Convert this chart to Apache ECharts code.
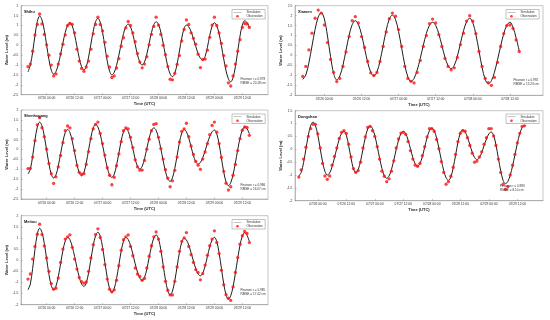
<!DOCTYPE html>
<html><head><meta charset="utf-8">
<script src="https://cdn.jsdelivr.net/npm/echarts@6/dist/echarts.min.js"></script>
<style>html,body{margin:0;padding:0;background:#fff}#c{width:550px;height:320px}</style>
</head><body><div id="c"></div>
<script>
// ---------- data ----------
const xTickHours = [0, 12, 24, 36, 48, 60, 72, 84]; // hours after 07/26 00:00 UTC
const xTickLabels = ['07/26 00:00','07/26 12:00','07/27 00:00','07/27 12:00','07/28 00:00','07/28 12:00','07/29 00:00','07/29 12:00'];

const stationNames = ['Shihu', 'Xiamen', 'Shenhugang', 'Dongshan', 'Meitou'];
const pearsonR = ['0.978', '0.992', '0.986', '0.983', '0.985'];
const rmseCm = ['20.18', '15.23', '16.07', '8.10', '17.42'];

// hourly series; first sample hour (relative to 07/26 00:00)
const shihuStart = -8;
const shihuSim = [-1.35,-1.00,-0.35,0.50,1.20,1.48, 1.28,0.75,0.01,-0.73,-1.26,-1.46, -1.33,-0.97,-0.45,0.13,0.65,1.01,1.14, 0.98,0.54,-0.06,-0.65,-1.09,-1.25, -1.08,-0.60,0.06,0.71,1.19,1.36, 1.17,0.65,-0.07,-0.79,-1.31,-1.50, -1.37,-1.02,-0.50,0.07,0.59,0.94,1.07, 0.93,0.55,0.04,-0.48,-0.86,-1.00, -0.85,-0.45,0.10,0.64,1.04,1.19, 1.05,0.67,0.11,-0.51,-1.07,-1.45,-1.59, -1.42,-0.94,-0.29,0.37,0.85,1.02, 0.93,0.69,0.33,-0.06,-0.42,-0.66,-0.75, -0.57,-0.10,0.49,0.96,1.14, 0.99,0.58,-0.02,-0.69,-1.29,-1.70,-1.85, -1.64,-1.08,-0.31,0.47,1.03,1.24, 1.15,0.90];
const shihuObs = [-1.08,-0.95,-0.30,0.52,1.05,1.58, 1.08,0.55,0.02,-0.50,-1.00,-1.55, -1.45,-0.95,-0.44,0.05,0.52,1.00,1.10, 1.06,0.62,-0.20,-0.80,-1.17,-1.32, -1.10,-0.80,-0.20,0.58,1.05,1.42, 1.05,0.72,0.15,-0.55,-1.10,-1.63, -1.55,-1.15,-0.68,-0.05,0.38,0.88,1.20, 1.00,0.62,0.18,-0.42,-0.85,-1.14, -0.95,-0.58,0.02,0.55,0.95,1.42, 1.02,0.55,0.00,-0.48,-1.08,-1.72,-1.75, -1.42,-0.97,-0.52,0.22,0.80,1.28, 1.05,0.63,0.35,0.05,-0.45,-1.13,-0.72, -0.70,-0.25,0.40,1.02,1.42, 1.00,0.62,0.10,-0.52,-1.05,-1.90,-2.06, -1.55,-0.95,-0.30,0.28,0.90,1.10, 1.08,0.90];

const xiamenStart = -7;
const xiamenSim = [-1.20,-0.98,-0.36,0.48,1.31,1.93,2.15, 1.83,0.98,-0.06,-0.91,-1.23, -1.03,-0.49,0.26,1.01,1.55,1.75, 1.56,1.06,0.36,-0.34,-0.84,-1.03, -0.83,-0.27,0.50,1.27,1.83,2.03, 1.81,1.20,0.37,-0.47,-1.08,-1.30, -1.15,-0.74,-0.15,0.52,1.11,1.52,1.67, 1.51,1.09,0.50,-0.09,-0.51,-0.67, -0.50,-0.04,0.60,1.24,1.70,1.87, 1.65,1.05,0.23,-0.60,-1.20,-1.42, -1.27,-0.84,-0.22,0.47,1.09,1.52,1.67, 1.42,0.88,0.25];
const xiamenObs = [-1.05,-0.55,0.28,1.12,1.87,2.28,2.13, 1.53,0.65,-0.20,-0.85,-1.31, -1.15,-0.55,0.18,0.95,1.75,1.95, 1.63,0.95,0.40,-0.30,-0.87,-1.00, -0.85,-0.30,0.45,1.18,1.85,2.13, 1.97,1.30,0.45,-0.55,-1.15,-1.30, -1.38,-0.85,-0.25,0.45,1.00,1.60,1.83, 1.63,1.05,0.45,-0.15,-0.55,-0.72, -0.62,-0.10,0.55,1.12,1.73,2.00, 1.72,1.10,0.20,-0.55,-1.15,-1.37, -1.50,-1.10,-0.35,0.45,1.10,1.50,1.53, 1.35,0.78,0.20];

const shenhugangStart = -8;
const shenhugangSim = [-1.24,-0.99,-0.33,0.48,1.14,1.39, 1.20,0.68,-0.03,-0.73,-1.25,-1.44, -1.28,-0.83,-0.21,0.41,0.86,1.02, 0.86,0.43,-0.16,-0.74,-1.17,-1.33, -1.16,-0.68,-0.03,0.62,1.10,1.27, 1.14,0.77,0.23,-0.37,-0.90,-1.28,-1.41, -1.25,-0.79,-0.18,0.44,0.90,1.06, 0.92,0.55,0.04,-0.48,-0.85,-0.99, -0.85,-0.47,0.06,0.58,0.96,1.10, 0.97,0.59,0.05,-0.56,-1.10,-1.48,-1.61, -1.43,-0.95,-0.30,0.36,0.84,1.02, 0.90,0.58,0.14,-0.30,-0.62,-0.74, -0.65,-0.41,-0.07,0.32,0.66,0.90,0.99, 0.80,0.29,-0.42,-1.13,-1.64,-1.83, -1.68,-1.27,-0.68,-0.01,0.58,0.99,1.14, 1.05,0.80];
const shenhugangObs = [-0.96,-0.95,-0.38,0.45,1.25,1.61, 1.10,0.65,0.02,-0.70,-1.22,-1.71, -1.38,-0.88,-0.30,0.35,0.95,1.19, 1.10,0.55,-0.05,-0.80,-1.15,-1.24, -1.22,-0.75,-0.10,0.55,1.05,1.27, 1.39,0.82,0.30,-0.28,-0.92,-1.30,-1.78, -1.40,-0.82,-0.22,0.40,0.95,1.10, 1.05,0.62,0.10,-0.52,-0.88,-1.04, -1.04,-0.55,0.02,0.52,0.95,1.27, 1.31,0.62,0.05,-0.48,-1.02,-1.45,-1.88, -1.58,-1.05,-0.38,0.38,0.92,1.05, 1.33,0.65,0.18,-0.25,-0.60,-0.79, -1.00,-0.48,-0.12,0.30,0.75,1.22,1.39, 0.88,0.30,-0.40,-1.10,-1.70,-2.05, -1.88,-1.30,-0.75,-0.05,0.55,0.98,1.14, 1.12,0.72];

const dongshanStart = -8;
const dongshanSim = [-1.04,-0.90,-0.52,0.01,0.54,0.92,1.06, 0.92,0.55,0.03,-0.49,-0.86,-1.00, -0.92,-0.68,-0.34,0.04,0.38,0.62,0.70, 0.55,0.14,-0.35,-0.76,-0.91, -0.79,-0.46,0.00,0.46,0.79,0.91, 0.81,0.53,0.12,-0.34,-0.75,-1.03,-1.13, -1.04,-0.79,-0.42,-0.01,0.36,0.61,0.70, 0.61,0.36,0.02,-0.32,-0.57,-0.66, -0.56,-0.29,0.08,0.45,0.72,0.82, 0.72,0.44,0.03,-0.42,-0.83,-1.11,-1.21, -1.08,-0.72,-0.23,0.27,0.63,0.76, 0.68,0.47,0.18,-0.11,-0.32,-0.40, -0.33,-0.13,0.14,0.40,0.60,0.67, 0.54,0.17,-0.34,-0.84,-1.21,-1.34, -1.25,-1.01,-0.64,-0.21,0.23,0.60,0.84,0.93];
const dongshanObs = [-1.08,-0.80,-0.38,0.08,0.50,0.80,0.97, 0.97,0.60,0.05,-0.55,-1.04,-1.17, -1.04,-0.62,-0.28,0.05,0.42,0.66,0.72, 0.62,0.20,-0.30,-0.75,-0.90, -0.83,-0.50,0.05,0.48,0.85,0.89, 0.72,0.50,0.10,-0.38,-0.85,-1.05,-1.26, -1.15,-0.85,-0.45,0.05,0.40,0.63,0.66, 0.58,0.30,-0.05,-0.38,-0.62,-0.66, -0.55,-0.25,0.10,0.48,0.80,0.80, 0.70,0.38,0.02,-0.48,-0.90,-1.36,-1.26, -1.05,-0.70,-0.20,0.30,0.62,0.72, 0.70,0.45,0.15,-0.15,-0.50,-0.46, -0.30,-0.10,0.20,0.45,0.80,0.80, 0.52,0.15,-0.38,-0.90,-1.36,-1.56, -1.45,-1.00,-0.62,-0.20,0.25,0.62,0.89,0.91];

const meitouStart = -8;
const meitouSim = [-1.33,-1.07,-0.37,0.48,1.18,1.44, 1.25,0.75,0.06,-0.64,-1.14,-1.33, -1.17,-0.74,-0.15,0.44,0.87,1.03, 0.92,0.61,0.17,-0.32,-0.76,-1.07,-1.18, -1.02,-0.57,0.04,0.65,1.10,1.26, 1.08,0.58,-0.10,-0.77,-1.27,-1.45, -1.28,-0.83,-0.21,0.41,0.86,1.03, 0.93,0.66,0.28,-0.16,-0.54,-0.81,-0.91, -0.77,-0.40,0.12,0.63,1.00,1.14, 0.96,0.47,-0.21,-0.89,-1.38,-1.56, -1.39,-0.92,-0.29,0.35,0.82,0.99, 0.91,0.67,0.33,-0.04,-0.38,-0.62,-0.70, -0.58,-0.27,0.17,0.60,0.91,1.03, 0.84,0.34,-0.36,-1.06,-1.56,-1.75, -1.60,-1.19,-0.59,0.08,0.68,1.09,1.24, 1.12,0.84];
const meitouObs = [-0.85,-0.62,0.05,0.62,1.17,1.62, 1.15,0.64,0.10,-0.50,-1.05,-1.30, -1.26,-0.80,-0.10,0.50,0.95,1.05, 1.14,0.58,0.05,-0.40,-0.78,-0.96,-1.03, -0.98,-0.50,0.10,0.70,1.15,1.41, 1.02,0.48,-0.20,-0.85,-1.30,-1.42, -1.33,-0.90,-0.25,0.45,0.92,1.05, 1.14,0.62,0.20,-0.35,-0.62,-0.73,-0.90, -0.82,-0.35,0.18,0.65,1.05,1.27, 0.95,0.40,-0.30,-0.95,-1.35,-1.56, -1.56,-0.95,-0.30,0.40,0.85,1.00, 1.24,0.62,0.25,-0.10,-0.42,-0.55,-0.88, -0.60,-0.22,0.22,0.65,0.95,1.32, 0.80,0.30,-0.45,-1.10,-1.55,-1.71, -1.81,-1.20,-0.55,0.12,0.72,1.10,1.29, 1.20,0.79];

// ---------- layout ----------
const FONT = 'Liberation Sans, Arial, Helvetica, sans-serif';
const AX = '#8c8c8c';
const panels = [
  {start: shihuStart, sim: shihuSim, obs: shihuObs, ymin: -2.5, ymax: 2, xmin: -11, xmax: 95,
   grid: {left: 21, top: 5.7, width: 247, height: 89}, title: [24, 11.5], legend: [232, 9.5], stats: [240.5, 81.3]},
  {start: xiamenStart, sim: xiamenSim, obs: xiamenObs, ymin: -2, ymax: 2.5, xmin: -9.5, xmax: 70.7,
   grid: {left: 295, top: 5.7, width: 248, height: 89.6}, title: [298, 11.5], legend: [506, 9.5], stats: [513.5, 81.8]},
  {start: shenhugangStart, sim: shenhugangSim, obs: shenhugangObs, ymin: -2.5, ymax: 2, xmin: -11, xmax: 95,
   grid: {left: 21, top: 110, width: 247, height: 89}, title: [24, 116], legend: [232, 114], stats: [240.5, 187.5]},
  {start: dongshanStart, sim: dongshanSim, obs: dongshanObs, ymin: -2, ymax: 1.5, xmin: -9.6, xmax: 94.8,
   grid: {left: 295, top: 110.7, width: 248, height: 90}, title: [298, 116.5], legend: [506, 114], stats: [500, 188.5]},
  {start: meitouStart, sim: meitouSim, obs: meitouObs, ymin: -2, ymax: 2, xmin: -11, xmax: 95,
   grid: {left: 21, top: 215.7, width: 247, height: 89}, title: [24, 221.5], legend: [232, 219.5], stats: [240.5, 292.5]}
];

// thin horizontal bar icon (corner specks keep the bounding box)
const LINE_ICON = 'path://M0,0L0.01,0L0,0.01Z M0,1.6L40,1.6L40,2.4L0,2.4Z M40,4L39.99,4L40,3.99Z';

function pairs(start, arr) { return arr.map((v, i) => [start + i, v]); }
const labelOf = {};
xTickHours.forEach((h, i) => { labelOf[h] = xTickLabels[i]; });

const grids = [], xAxes = [], yAxes = [], series = [], legends = [], graphics = [];
panels.forEach((p, i) => {
  grids.push(Object.assign({show: true, borderColor: AX, borderWidth: 0.5, backgroundColor: '#fff', containLabel: false, outerBoundsMode: 'none'}, p.grid));
  const ticks = xTickHours.filter(h => h >= p.xmin && h <= p.xmax);
  xAxes.push({
    type: 'value', gridIndex: i, min: p.xmin, max: p.xmax,
    axisLine: {show: true, onZero: false, lineStyle: {color: AX, width: 0.5}},
    axisTick: {show: true, inside: true, length: 1.6, customValues: ticks, lineStyle: {color: AX, width: 0.5}},
    axisLabel: {customValues: ticks, formatter: v => labelOf[v] || '', fontSize: 3.3, color: '#333', margin: 2.1, fontFamily: FONT},
    splitLine: {show: false},
    name: 'Time (UTC)', nameLocation: 'middle', nameGap: 7.4,
    nameTextStyle: {fontSize: 4.0, fontWeight: 'bold', color: '#2a2a2a', fontFamily: FONT}
  });
  yAxes.push({
    type: 'value', gridIndex: i, min: p.ymin, max: p.ymax, interval: 0.5,
    axisLine: {show: true, onZero: false, lineStyle: {color: AX, width: 0.5}},
    axisTick: {show: true, inside: true, length: 1.6, lineStyle: {color: AX, width: 0.5}},
    axisLabel: {fontSize: 3.3, color: '#333', margin: 2.6, fontFamily: FONT},
    splitLine: {show: false},
    name: 'Water Level (m)', nameLocation: 'middle', nameGap: 11.5,
    nameTextStyle: {fontSize: 4.1, fontWeight: 'bold', color: '#2a2a2a', fontFamily: FONT}
  });
  series.push({
    type: 'line', name: 'Simulation', xAxisIndex: i, yAxisIndex: i, data: pairs(p.start, p.sim),
    symbol: 'none', smooth: 0.35, lineStyle: {color: '#1e1e1e', width: 1.0}, z: 2, silent: true
  });
  series.push({
    type: 'scatter', name: 'Observation', xAxisIndex: i, yAxisIndex: i, data: pairs(p.start, p.obs),
    symbol: 'circle', symbolSize: 3.3, itemStyle: {color: '#ff1010'}, z: 3, silent: true
  });
  legends.push({
    left: p.legend[0], top: p.legend[1], orient: 'vertical', selectedMode: false,
    data: [{name: 'Simulation', icon: LINE_ICON, itemStyle: {color: '#1e1e1e'}},
           {name: 'Observation', icon: 'circle'}],
    borderColor: '#666', borderWidth: 0.4, backgroundColor: '#fff', padding: [1.2, 2.5, 1.2, 1.5],
    itemWidth: 8, itemHeight: 2.6, itemGap: 1.1, itemTextGap: 3,
    textStyle: {fontSize: 3.0, color: '#333', fontFamily: FONT}
  });
  graphics.push({type: 'text', x: p.title[0], y: p.title[1], z: 10,
    style: {text: stationNames[i], fill: '#111', fontSize: 3.9, fontWeight: 'bold', fontFamily: FONT, verticalAlign: 'middle'}});
  graphics.push({type: 'text', x: p.stats[0], y: p.stats[1], z: 10,
    style: {text: 'Pearson r = ' + pearsonR[i] + '\nRMSE = ' + rmseCm[i] + ' cm', fill: '#333', fontSize: 3.1, lineHeight: 4.1, fontFamily: FONT, verticalAlign: 'middle'}});
});

const chart = echarts.init(document.getElementById('c'), null, {renderer: 'canvas'});
chart.setOption({
  animation: false,
  backgroundColor: '#fff',
  grid: grids, xAxis: xAxes, yAxis: yAxes, series: series, legend: legends, graphic: graphics
});
</script></body></html>
